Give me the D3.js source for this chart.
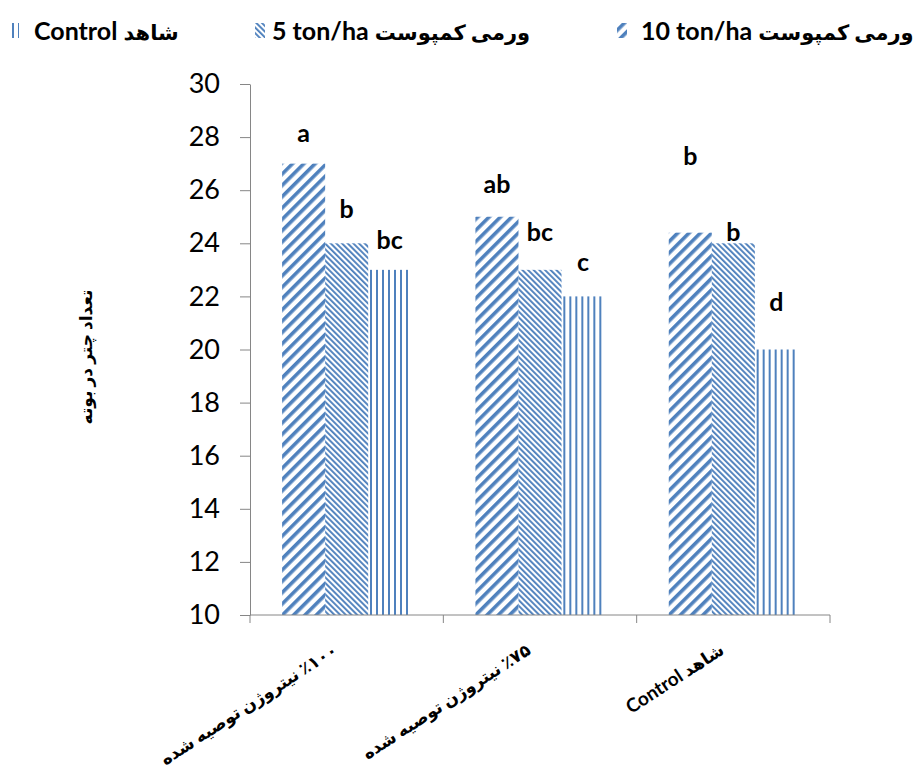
<!DOCTYPE html>
<html lang="fa">
  <head>
    <meta charset="utf-8" />
    <title>Umbels per plant</title>
    <script src="https://d3js.org/d3.v7.min.js"></script>
    <style>
      body {
        margin: 0;
        background: #fff;
      }
      text {
        font-family: "Lato", "DejaVu Sans", sans-serif;
        fill: #000;
      }
      .axis line,
      .axis path {
        stroke: #868686;
      }
      .y-axis text {
        font-size: 27px;
      }
      .letter {
        font-size: 25px;
        font-weight: bold;
      }
      .legend-text {
        font-size: 25px;
        font-weight: bold;
      }
      .legend-text .fa {
        font-size: 21px;
      }
      .x-label {
        font-size: 17px;
        font-weight: bold;
      }
      .x-label .en {
        font-size: 19px;
      }
      .y-label {
        font-size: 17px;
        font-weight: bold;
      }
    </style>
  </head>

  <body>
    <svg id="chart" width="917" height="769"></svg>

    <script>
      // data
      const groups = [
        "٪۱۰۰ نیتروژن توصیه شده",
        "٪۷۵ نیتروژن توصیه شده",
        "شاهد Control",
      ];
      const seriesLatin = ["10 ton/ha", "5 ton/ha", "Control"];
      const seriesPersian = ["ورمی کمپوست", "ورمی کمپوست", "شاهد"];
      const vermi10 = [27, 25, 24.4];
      const vermi5 = [24, 23, 24];
      const control = [23, 22, 20];
      // significance letters and where they sit (in y units)
      const letters10 = ["a", "ab", "b"];
      const letters5 = ["b", "bc", "b"];
      const lettersControl = ["bc", "c", "d"];
      const letterY10 = [28.1, 26.2, 27.25];
      const letterY5 = [25.25, 24.4, 24.4];
      const letterYControl = [24.1, 23.25, 21.75];
      const yTicks = [10, 12, 14, 16, 18, 20, 22, 24, 26, 28, 30];
      const yTitle = "تعداد چتر در بوته";

      const svg = d3.select("svg#chart");
      const width = +svg.attr("width");
      const height = +svg.attr("height");
      const margin = { top: 84, right: 87, bottom: 154, left: 250 };

      const RLE = "\u202B",
        PDF = "\u202C";

      const seriesKeys = ["s10", "s5", "sc"];
      const table = groups.map((g, i) => ({
        group: g,
        s10: vermi10[i],
        s5: vermi5[i],
        sc: control[i],
        l10: letters10[i],
        l5: letters5[i],
        lc: lettersControl[i],
        y10: letterY10[i],
        y5: letterY5[i],
        yc: letterYControl[i],
      }));

      // patterns
      const defs = svg.append("defs");
      const blue = "#4F81BD";
      defs
        .append("pattern")
        .attr("id", "pat-s10")
        .attr("patternUnits", "userSpaceOnUse")
        .attr("width", 8)
        .attr("height", 8)
        .attr("patternTransform", "rotate(45)")
        .append("rect")
        .attr("x", 0)
        .attr("y", 0)
        .attr("width", 3.6)
        .attr("height", 8)
        .attr("fill", blue);
      defs
        .append("pattern")
        .attr("id", "pat-s5")
        .attr("patternUnits", "userSpaceOnUse")
        .attr("width", 4)
        .attr("height", 4)
        .attr("patternTransform", "rotate(-45)")
        .append("rect")
        .attr("x", 0)
        .attr("y", 0)
        .attr("width", 1.9)
        .attr("height", 4)
        .attr("fill", blue);
      defs
        .append("pattern")
        .attr("id", "pat-sc")
        .attr("patternUnits", "userSpaceOnUse")
        .attr("width", 6)
        .attr("height", 6)
        .append("rect")
        .attr("x", 0)
        .attr("y", 0)
        .attr("width", 2)
        .attr("height", 6)
        .attr("fill", blue);

      // scales
      const x0 = d3
        .scaleBand()
        .domain(groups)
        .range([margin.left, width - margin.right])
        .padding(0);
      const gap = x0.bandwidth() * 0.166;
      const x1 = d3
        .scaleBand()
        .domain(seriesKeys)
        .range([gap, x0.bandwidth() - gap])
        .padding(0);
      const yScale = d3
        .scaleLinear()
        .domain([10, 30])
        .range([height - margin.bottom, margin.top]);

      // bars
      const groupG = svg
        .selectAll("g.group")
        .data(table)
        .join("g")
        .attr("class", "group")
        .attr("transform", (d) => `translate(${x0(d.group)},0)`);

      groupG
        .selectAll("rect")
        .data((d) => seriesKeys.map((k) => ({ key: k, value: d[k] })))
        .join("rect")
        .attr("x", (d) => x1(d.key))
        .attr("y", (d) => yScale(d.value))
        .attr("width", x1.bandwidth())
        .attr("height", (d) => yScale(10) - yScale(d.value))
        .attr("fill", (d) => `url(#pat-${d.key})`);

      groupG
        .selectAll("text.letter")
        .data((d) => [
          { key: "s10", t: d.l10, y: d.y10 },
          { key: "s5", t: d.l5, y: d.y5 },
          { key: "sc", t: d.lc, y: d.yc },
        ])
        .join("text")
        .attr("class", "letter")
        .attr("x", (d) => x1(d.key) + x1.bandwidth() / 2)
        .attr("y", (d) => yScale(d.y))
        .attr("dy", "0.32em")
        .attr("text-anchor", "middle")
        .text((d) => d.t);

      // y axis
      const yAxis = d3
        .axisLeft(yScale)
        .tickValues(yTicks)
        .tickSize(10)
        .tickPadding(20)
        .tickSizeOuter(0);
      svg
        .append("g")
        .attr("class", "axis y-axis")
        .attr("transform", `translate(${margin.left},0)`)
        .call(yAxis);

      // x axis: line with ticks on the group boundaries
      const xAxisG = svg
        .append("g")
        .attr("class", "axis x-axis")
        .attr("transform", `translate(0,${yScale(10)})`);
      xAxisG
        .append("path")
        .attr("d", `M${margin.left},0H${width - margin.right}`)
        .attr("fill", "none");
      const bounds = groups.map((g) => x0(g)).concat([x0(groups[2]) + x0.bandwidth()]);
      xAxisG
        .selectAll("line")
        .data(bounds)
        .join("line")
        .attr("x1", (d) => d)
        .attr("x2", (d) => d)
        .attr("y1", 0)
        .attr("y2", 8);

      xAxisG
        .selectAll("text")
        .data(groups)
        .join("text")
        .attr("class", "x-label")
        .attr("text-anchor", "end")
        .attr(
          "transform",
          (d) => `translate(${x0(d) + x0.bandwidth() / 2 - 8},${38}) rotate(-33)`
        )
        .each(function (d) {
          // latin words get a slightly bigger face, as in the original
          const t = d3.select(this);
          t.append("tspan").text(RLE);
          d.split(/(Control)/).forEach((part) => {
            if (!part) return;
            t.append("tspan")
              .attr("class", part === "Control" ? "en" : null)
              .text(part);
          });
          t.append("tspan").text(PDF);
        });

      // y title
      svg
        .append("text")
        .attr("class", "y-label")
        .attr("text-anchor", "middle")
        .attr("transform", `translate(92,357) rotate(-90)`)
        .text(RLE + yTitle + PDF);

      // legend, left to right: control, 5, 10
      const legendSwatchX = [9, 255, 617];
      const legendTextX = [34, 272, 641];
      const legendOrder = [2, 1, 0];
      const legend = svg.append("g").attr("class", "legend");
      legendOrder.forEach((s, i) => {
        legend
          .append("rect")
          .attr("x", legendSwatchX[i])
          .attr("y", 23)
          .attr("width", 10)
          .attr("height", 15)
          .attr("fill", `url(#pat-${seriesKeys[s]})`);
        const t = legend
          .append("text")
          .attr("class", "legend-text")
          .attr("x", legendTextX[i])
          .attr("y", 31)
          .attr("dy", "0.35em");
        t.append("tspan").text(seriesLatin[s] + " ");
        t.append("tspan").attr("class", "fa").text(seriesPersian[s]);
      });
    </script>
  </body>
</html>
